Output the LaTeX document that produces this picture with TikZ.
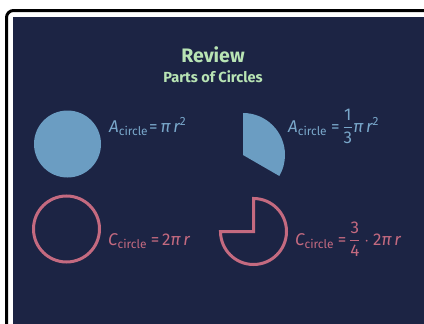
\documentclass[tikz,border=0pt]{standalone}
\usepackage{amsmath}
\usepackage{fontspec}
\setmainfont{Fira Sans}
\definecolor{navy}{HTML}{1C2444}
\definecolor{bluef}{HTML}{6B9DC2}
\definecolor{bluet}{HTML}{79A7CA}
\definecolor{pinkc}{HTML}{C46A80}
\definecolor{greent}{HTML}{B8E4B4}
\tikzset{
  formula/.style={anchor=base west, inner sep=0pt, font=\fontsize{17}{20}\selectfont},
  titletext/.style={anchor=base, inner sep=0pt, text=greent, font=\bfseries},
  ring/.style={draw=pinkc, line width=3pt},
  disc/.style={fill=bluef}
}
\begin{document}
\begin{tikzpicture}[x=1pt,y=1pt]
\useasboundingbox (0,0) rectangle (424,-324);
\clip (0,0) rectangle (424,-324);
\fill[white] (0,0) rectangle (424,-324);
\fill[navy] (13,-17) rectangle (430,-330);
\draw[line width=3pt, rounded corners=7pt] (6.5,-330) -- (6.5,-10.5) -- (430,-10.5);
% title
\node[titletext, font=\bfseries\fontsize{19.5}{22}\selectfont] (t1) at (213,-63) {Review};
\node[titletext, font=\bfseries\fontsize{14.6}{17}\selectfont] (t2) at (213,-82) {Parts of Circles};
% shapes
\fill[disc] (67.5,-144) circle (33.5);
\fill[disc] (243,-155) -- ++(0,42) arc[start angle=90, end angle=-30, radius=42] -- cycle;
\draw[ring] (66.5,-229) circle (33);
\draw[ring] (253.5,-231.5) -- ++(0,33) arc[start angle=90, end angle=-180, radius=33] -- cycle;
% formulas
\node[formula, text=bluet] (f1) at (109,-132) {$\textit{A}_{\text{circle\kern1pt}}\text{=}\,\textit{π}\,\textit{r}^{\text{2}}$};
\node[formula, text=bluet] (f2) at (288,-132) {$\textit{A}_{\text{circle\kern1pt}}\text{\,=\,}\dfrac{\text{1}}{\text{3}}\textit{π}\,\textit{r}^{\text{2}}$};
\node[formula, text=pinkc] (f3) at (108,-245) {$\textit{C}_{\text{circle\kern1pt}}\text{\,=\,}\text{2}\textit{π}\,\textit{r}$};
\node[formula, text=pinkc] (f4) at (295,-245) {$\textit{C}_{\text{circle\kern1pt}}\text{\,=\,}\dfrac{\text{3}}{\text{4}}\cdot\text{2}\textit{π}\,\textit{r}$};
\end{tikzpicture}
\end{document}
